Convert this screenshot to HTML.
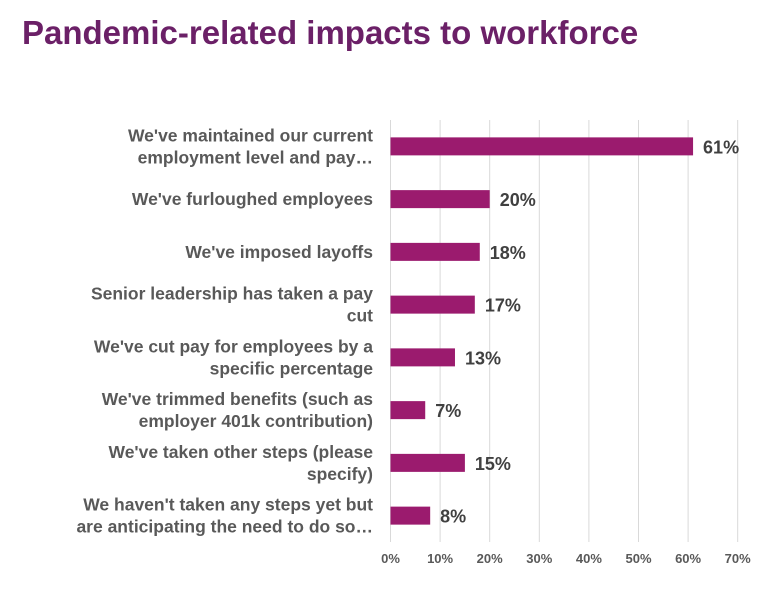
<!DOCTYPE html>
<html><head><meta charset="utf-8"><style>
body{margin:0;background:#fff;width:775px;height:589px;overflow:hidden;font-family:"Liberation Sans",Arial,sans-serif;}
</style></head><body>
<svg width="775" height="589" xmlns="http://www.w3.org/2000/svg">
<text x="22" y="44" font-size="33" font-weight="bold" fill="#6B2067">Pandemic-related impacts to workforce</text>
<g id="grid"></g>
<g id="bars"></g>
<g id="labels"></g>
<g id="ticks"></g>
</svg>
<script>
const categories=[["We've maintained our current","employment level and pay…"],["We've furloughed employees"],["We've imposed layoffs"],["Senior leadership has taken a pay","cut"],["We've cut pay for employees by a","specific percentage"],["We've trimmed benefits (such as","employer 401k contribution)"],["We've taken other steps (please","specify)"],["We haven't taken any steps yet but","are anticipating the need to do so…"]];
const values=[61,20,18,17,13,7,15,8];
const tickValues=[0,10,20,30,40,50,60,70];
const tickLabels=["0%","10%","20%","30%","40%","50%","60%","70%"];
const NS="http://www.w3.org/2000/svg";
const x0=390.5,pxPer=4.96,plotTop=120,plotBottom=542;
const band=(plotBottom-plotTop)/categories.length;
function xs(v){return x0+v*pxPer;}
function yc(i){return plotTop+band*(i+0.5);}
function mk(t,a,p){const e=document.createElementNS(NS,t);for(const k in a)e.setAttribute(k,a[k]);p.appendChild(e);return e;}
const g=document.getElementById('grid'),b=document.getElementById('bars'),l=document.getElementById('labels'),tk=document.getElementById('ticks');
tickValues.forEach((v,i)=>{
 const ln=mk('line',{x1:xs(v),x2:xs(v),y1:plotTop,y2:plotBottom,stroke:'#D9D9D9','stroke-width':1},g);
 
 
 const t=mk('text',{x:xs(v),y:563,'text-anchor':'middle','font-size':13,'font-weight':'bold',fill:'#595959'},tk);
 t.textContent=tickLabels[i];
 
 
});
values.forEach((v,i)=>{
 const r=mk('rect',{x:xs(0),y:yc(i)-9,width:xs(v)-xs(0),height:18,fill:'#9B1B6E'},b);
 
 
 const t=mk('text',{x:xs(v)+10,y:yc(i)+7,'font-size':18,'font-weight':'bold',fill:'#404040'},b);
 t.textContent=v+'%';
 
 
 const lines=categories[i];
 lines.forEach((s,j)=>{
  const y=yc(i)+6+(j-(lines.length-1)/2)*22;
  const tt=mk('text',{x:373,y:y,'text-anchor':'end','font-size':17.5,'font-weight':'bold',fill:'#595959'},l);
  tt.textContent=s;
  
  
 });
});
</script>
</body></html>
